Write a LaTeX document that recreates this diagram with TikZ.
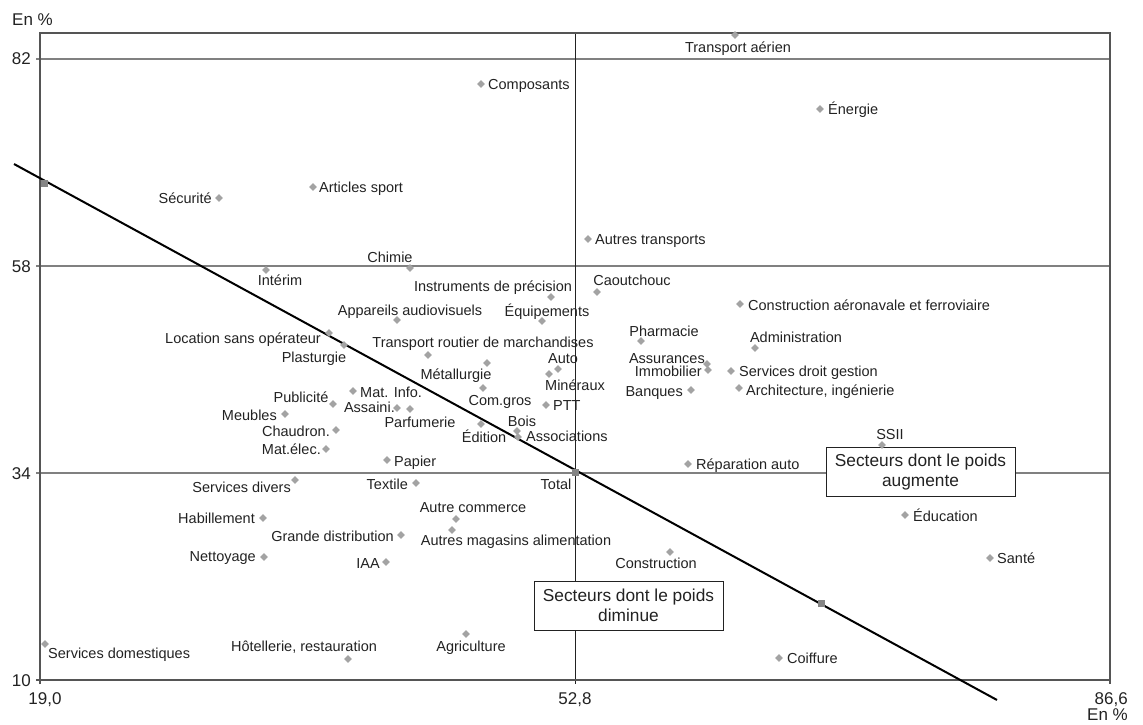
\documentclass[tikz,border=0pt]{standalone}
\usepackage{fontspec}
\setmainfont{Liberation Sans}
\usetikzlibrary{shapes.geometric}
\definecolor{txt}{HTML}{222222}
\definecolor{mk}{HTML}{A3A3A3}
\definecolor{sqc}{HTML}{858585}
\definecolor{gridc}{HTML}{808080}
\definecolor{axisc}{HTML}{555555}
\begin{document}
\begin{tikzpicture}[x=1pt,y=-1pt,
 pt/.style={diamond, fill=mk, inner sep=0pt, minimum width=8pt, minimum height=8pt},
 sqpt/.style={rectangle, fill=sqc, inner sep=0pt, minimum size=7pt},
 lab/.style={inner sep=0pt, text=txt, font=\fontsize{14.5}{16}\selectfont},
 ax/.style={inner sep=0pt, text=txt, font=\fontsize{17}{20}\selectfont},
 gridline/.style={draw=gridc, line width=1.4pt},
 framec/.style={draw=axisc, line width=1.8pt},
 midline/.style={draw=txt, line width=0.9pt},
 regline/.style={draw=black, line width=2pt},
 infobox/.style={draw=txt, fill=white, line width=1pt, minimum width=189pt, minimum height=49pt, align=center, inner sep=0pt, font=\fontsize{17.3}{20}\selectfont, text=txt}
]
\useasboundingbox (0,0) rectangle (1143,725);

% grid lines
\coordinate (g82a) at (36,59);  \coordinate (g82b) at (1110,59);
\coordinate (g58a) at (36,266); \coordinate (g58b) at (1110,266);
\coordinate (g34a) at (36,473); \coordinate (g34b) at (1110,473);
\draw[gridline] (g82a) -- (g82b);
\draw[gridline] (g58a) -- (g58b);
\draw[gridline] (g34a) -- (g34b);

% vertical line at 52.8
\coordinate (vma) at (575,33); \coordinate (vmb) at (575,684);
\draw[midline] (vma) -- (vmb);

% frame
\coordinate (fbl) at (40,684); \coordinate (ftl) at (40,33);
\coordinate (ftr) at (1110,33); \coordinate (fbr) at (1110,684);
\coordinate (xa) at (36,680); \coordinate (xb) at (1110,680);
\draw[framec] (fbl) -- (ftl) -- (ftr) -- (fbr);
\draw[framec] (xa) -- (xb);

% regression line
\coordinate (rl1) at (14,164); \coordinate (rl2) at (997,700);
\draw[regline] (rl1) -- (rl2);

% axis labels
\node[ax, anchor=base west] (enpy) at (12,26) {En \%};
\node[ax, anchor=base east] (y82) at (31,65) {82};
\node[ax, anchor=base east] (y58) at (31,272) {58};
\node[ax, anchor=base east] (y34) at (31,479) {34};
\node[ax, anchor=base east] (y10) at (31,686) {10};
\node[ax, anchor=base] (x19) at (45,704) {19,0};
\node[ax, anchor=base] (x52) at (575,704) {52,8};
\node[ax, anchor=base east] (x86) at (1128,704) {86,6};
\node[ax, anchor=base east] (enpx) at (1128,720) {En \%};

% boxes
\node[infobox] (bdim) at (628.5,605.5) {Secteurs dont le poids\\diminue};
\node[infobox] (baug) at (920.5,472) {Secteurs dont le poids\\augmente};

% square markers
\node[sqpt] (sq1) at (44,183) {};
\node[sqpt] (sq2) at (821,603) {};
\node[sqpt] (p-tot) at (575,472) {};

% data points
\node[pt] (p-tra) at (735,35) {};
\node[pt] (p-ene) at (820,109) {};
\node[pt] (p-com) at (481,84) {};
\node[pt] (p-art) at (313,187) {};
\node[pt] (p-sec) at (219,198) {};
\node[pt] (p-aut) at (588,239) {};
\node[pt] (p-chi) at (410,268) {};
\node[pt] (p-int) at (266,270) {};
\node[pt] (p-ins) at (551,297) {};
\node[pt] (p-cao) at (597,292) {};
\node[pt] (p-app) at (397,320) {};
\node[pt] (p-equ) at (542,321) {};
\node[pt] (p-cons) at (740,304) {};
\node[pt] (p-pha) at (641,341) {};
\node[pt] (p-adm) at (755,348) {};
\node[pt] (p-loc) at (329,333) {};
\node[pt] (p-pla) at (344,345) {};
\node[pt] (p-trr) at (428,355) {};
\node[pt] (p-met) at (487,363) {};
\node[pt] (p-auto) at (558,369) {};
\node[pt] (p-min) at (549,374) {};
\node[pt] (p-cgr) at (483,388) {};
\node[pt] (p-ptt) at (546,405) {};
\node[pt] (p-boi) at (517,431) {};
\node[pt] (p-ass) at (518,437) {};
\node[pt] (p-edi) at (481,424) {};
\node[pt] (p-par) at (410,409) {};
\node[pt] (p-asa) at (397,408) {};
\node[pt] (p-mat) at (353,391) {};
\node[pt] (p-pub) at (333,404) {};
\node[pt] (p-meu) at (285,414) {};
\node[pt] (p-cha) at (336,430) {};
\node[pt] (p-mel) at (326,449) {};
\node[pt] (p-pap) at (387,460) {};
\node[pt] (p-sdi) at (295,480) {};
\node[pt] (p-tex) at (416,483) {};
\node[pt] (p-aco) at (456,519) {};
\node[pt] (p-ama) at (452,530) {};
\node[pt] (p-hab) at (263,518) {};
\node[pt] (p-gdi) at (401,535) {};
\node[pt] (p-net) at (264,557) {};
\node[pt] (p-iaa) at (386,562) {};
\node[pt] (p-ctn) at (670,552) {};
\node[pt] (p-rep) at (688,464) {};
\node[pt] (p-ssi) at (882,445) {};
\node[pt] (p-edu) at (905,515) {};
\node[pt] (p-san) at (990,558) {};
\node[pt] (p-coi) at (779,658) {};
\node[pt] (p-agr) at (466,634) {};
\node[pt] (p-hot) at (348,659) {};
\node[pt] (p-sdo) at (45,644) {};
\node[pt] (p-asu) at (707,364) {};
\node[pt] (p-imm) at (708,370) {};
\node[pt] (p-ban) at (691,390) {};
\node[pt] (p-sdg) at (731,371) {};
\node[pt] (p-arc) at (739,388) {};

% labels
\node[lab, anchor=base] (l-tra) at (738,53) {Transport aérien};
\node[lab, anchor=base west] (l-ene) at (828,114) {Énergie};
\node[lab, anchor=base west] (l-com) at (488,89) {Composants};
\node[lab, anchor=base west] (l-art) at (319,192) {Articles sport};
\node[lab, anchor=base east] (l-sec) at (212,203) {Sécurité};
\node[lab, anchor=base west] (l-aut) at (595,244) {Autres transports};
\node[lab, anchor=base] (l-chi) at (390,262) {Chimie};
\node[lab, anchor=base] (l-int) at (280,285) {Intérim};
\node[lab, anchor=base] (l-ins) at (493,291) {Instruments de précision};
\node[lab, anchor=base] (l-cao) at (632,285) {Caoutchouc};
\node[lab, anchor=base] (l-app) at (410,315) {Appareils audiovisuels};
\node[lab, anchor=base] (l-equ) at (547,316) {Équipements};
\node[lab, anchor=base west] (l-cons) at (748,310) {Construction aéronavale et ferroviaire};
\node[lab, anchor=base] (l-pha) at (664,336) {Pharmacie};
\node[lab, anchor=base] (l-adm) at (796,342) {Administration};
\node[lab, anchor=base east] (l-loc) at (321,343) {Location sans opérateur};
\node[lab, anchor=base] (l-pla) at (314,362) {Plasturgie};
\node[lab, anchor=base] (l-trr) at (483,347) {Transport routier de marchandises};
\node[lab, anchor=base] (l-met) at (456,379) {Métallurgie};
\node[lab, anchor=base] (l-auto) at (563,363) {Auto};
\node[lab, anchor=base] (l-min) at (575,390) {Minéraux};
\node[lab, anchor=base] (l-cgr) at (500,405) {Com.gros};
\node[lab, anchor=base west] (l-ptt) at (553,410) {PTT};
\node[lab, anchor=base] (l-boi) at (522,426) {Bois};
\node[lab, anchor=base west] (l-ass) at (526,441) {Associations};
\node[lab, anchor=base] (l-edi) at (484,442) {Édition};
\node[lab, anchor=base] (l-par) at (420,427) {Parfumerie};
\node[lab, anchor=base east] (l-asa) at (395,412) {Assaini.};
\node[lab, anchor=base west] (l-mat) at (360,397) {Mat. Info.};
\node[lab, anchor=base] (l-pub) at (301,402) {Publicité};
\node[lab, anchor=base east] (l-meu) at (277,420) {Meubles};
\node[lab, anchor=base east] (l-cha) at (330,436) {Chaudron.};
\node[lab, anchor=base east] (l-mel) at (321,454) {Mat.élec.};
\node[lab, anchor=base west] (l-pap) at (394,466) {Papier};
\node[lab, anchor=base east] (l-sdi) at (291,492) {Services divers};
\node[lab, anchor=base east] (l-tex) at (408,489) {Textile};
\node[lab, anchor=base] (l-tot) at (556,489) {Total};
\node[lab, anchor=base] (l-aco) at (473,512) {Autre commerce};
\node[lab, anchor=base] (l-ama) at (516,545) {Autres magasins alimentation};
\node[lab, anchor=base east] (l-hab) at (255,523) {Habillement};
\node[lab, anchor=base east] (l-gdi) at (394,541) {Grande distribution};
\node[lab, anchor=base east] (l-net) at (256,561) {Nettoyage};
\node[lab, anchor=base east] (l-iaa) at (380,568) {IAA};
\node[lab, anchor=base] (l-ctn) at (656,568) {Construction};
\node[lab, anchor=base west] (l-rep) at (696,469) {Réparation auto};
\node[lab, anchor=base] (l-ssi) at (890,439) {SSII};
\node[lab, anchor=base west] (l-edu) at (913,521) {Éducation};
\node[lab, anchor=base west] (l-san) at (997,563) {Santé};
\node[lab, anchor=base west] (l-coi) at (787,663) {Coiffure};
\node[lab, anchor=base] (l-agr) at (471,651) {Agriculture};
\node[lab, anchor=base] (l-hot) at (304,651) {Hôtellerie, restauration};
\node[lab, anchor=base west] (l-sdo) at (48,658) {Services domestiques};
\node[lab, anchor=base east] (l-asu) at (705,363) {Assurances};
\node[lab, anchor=base east] (l-imm) at (702,376) {Immobilier};
\node[lab, anchor=base east] (l-ban) at (683,396) {Banques};
\node[lab, anchor=base west] (l-sdg) at (739,376) {Services droit gestion};
\node[lab, anchor=base west] (l-arc) at (746,395) {Architecture, ingénierie};
\end{tikzpicture}
\end{document}
